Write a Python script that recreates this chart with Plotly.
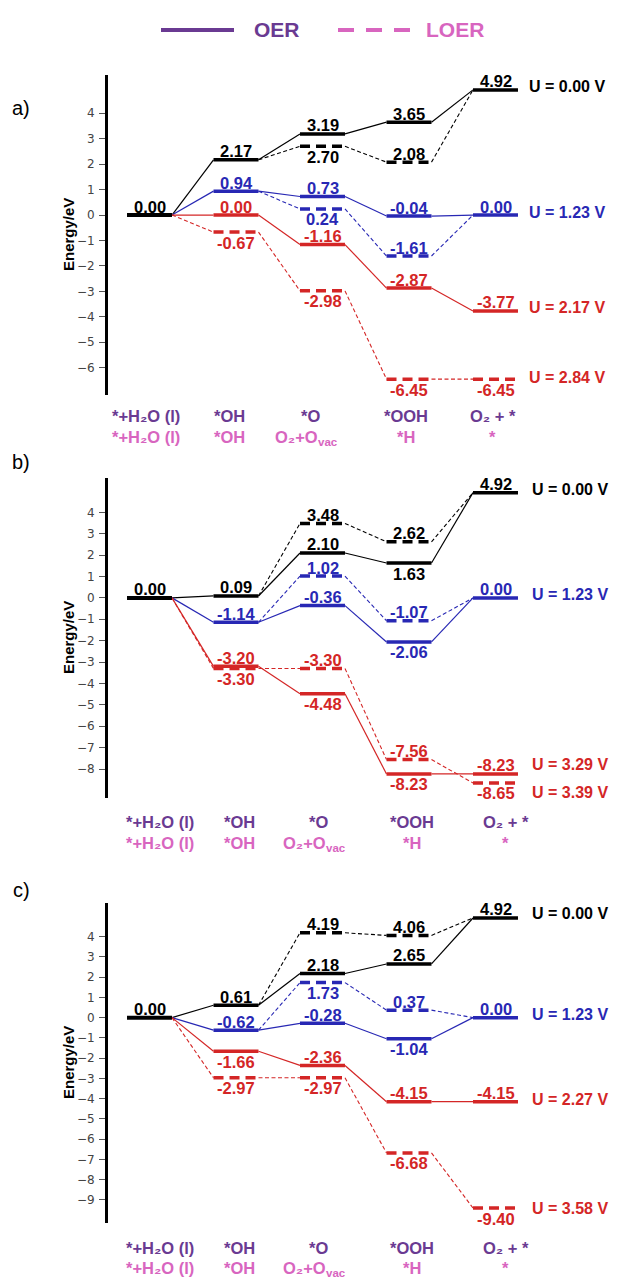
import plotly.graph_objects as go

# ---------------- data ----------------
steps_oer = ["*+H\u2082O (l)", "*OH", "*O", "*OOH", "O\u2082 + *"]
steps_loer = ["*+H\u2082O (l)", "*OH", "O\u2082+O", "*H", "*"]
steps_loer_sub = ["", "", "vac", "", ""]

# panel a
a_oer_u0 = [0.00, 2.17, 3.19, 3.65, 4.92]
a_loer_u0 = [0.00, 2.17, 2.70, 2.08, 4.92]
a_oer_u1 = [0.00, 0.94, 0.73, -0.04, 0.00]
a_loer_u1 = [0.00, 0.94, 0.24, -1.61, 0.00]
a_oer_u2 = [0.00, 0.00, -1.16, -2.87, -3.77]
a_loer_u2 = [0.00, -0.67, -2.98, -6.45, -6.45]
a_potentials = ["U = 0.00 V", "U = 1.23 V", "U = 2.17 V", "U = 2.84 V"]
a_ticks = [4, 3, 2, 1, 0, -1, -2, -3, -4, -5, -6]

# panel b
b_oer_u0 = [0.00, 0.09, 2.10, 1.63, 4.92]
b_loer_u0 = [0.00, 0.09, 3.48, 2.62, 4.92]
b_oer_u1 = [0.00, -1.14, -0.36, -2.06, 0.00]
b_loer_u1 = [0.00, -1.14, 1.02, -1.07, 0.00]
b_oer_u2 = [0.00, -3.20, -4.48, -8.23, -8.23]
b_loer_u2 = [0.00, -3.30, -3.30, -7.56, -8.65]
b_potentials = ["U = 0.00 V", "U = 1.23 V", "U = 3.29 V", "U = 3.39 V"]
b_ticks = [4, 3, 2, 1, 0, -1, -2, -3, -4, -5, -6, -7, -8]

# panel c
c_oer_u0 = [0.00, 0.61, 2.18, 2.65, 4.92]
c_loer_u0 = [0.00, 0.61, 4.19, 4.06, 4.92]
c_oer_u1 = [0.00, -0.62, -0.28, -1.04, 0.00]
c_loer_u1 = [0.00, -0.62, 1.73, 0.37, 0.00]
c_oer_u2 = [0.00, -1.66, -2.36, -4.15, -4.15]
c_loer_u2 = [0.00, -2.97, -2.97, -6.68, -9.40]
c_potentials = ["U = 0.00 V", "U = 1.23 V", "U = 2.27 V", "U = 3.58 V"]
c_ticks = [4, 3, 2, 1, 0, -1, -2, -3, -4, -5, -6, -7, -8, -9]

# ---------------- styling / layout ----------------
W, H = 633, 1279
BLACK = "#000000"
BLUE = "#2828b4"
RED = "#d42626"
PURPLE = "#6a3a92"
PINK = "#d865bf"
FONT = "Liberation Sans, Arial, sans-serif"
HALF = 0.26  # half width of an energy level

# label placement (a = above, b = below, - = none) for steps 1..4
panels = [
    dict(name="a)", top=75, bottom=395, yr=[-7.073, 5.505], ticks=a_ticks,
         series=[(a_oer_u0, a_loer_u0, BLACK, "aaaa", "-ba-"),
                 (a_oer_u1, a_loer_u1, BLUE, "aaaa", "-ba-"),
                 (a_oer_u2, a_loer_u2, RED, "aaaa", "bbbb")],
         pots=a_potentials, potshift=[3, 3, 3, 2], potx=4.36, tag_y=108,
         catx=[-0.04, -0.08, -0.14, -0.04, -0.03], cat_y=(416, 437)),
    dict(name="b)", top=478, bottom=798, yr=[-9.355, 5.605], ticks=b_ticks,
         series=[(b_oer_u0, b_loer_u0, BLACK, "aaba", "-aa-"),
                 (b_oer_u1, b_loer_u1, BLUE, "aaba", "-aa-"),
                 (b_oer_u2, b_loer_u2, RED, "abba", "baab")],
         pots=b_potentials, potshift=[3, 3, 9, -10], potx=4.40, tag_y=462,
         catx=[0.12, 0.04, -0.05, 0.04, 0.12], cat_y=(822, 843)),
    dict(name="c)", top=903, bottom=1223, yr=[-10.14, 5.66], ticks=c_ticks,
         series=[(c_oer_u0, c_loer_u0, BLACK, "aaaa", "-aa-"),
                 (c_oer_u1, c_loer_u1, BLUE, "aaba", "-ba-"),
                 (c_oer_u2, c_loer_u2, RED, "baaa", "bbbb")],
         pots=c_potentials, potshift=[4, 3, 2, 0], potx=4.40, tag_y=890,
         catx=[0.12, 0.04, -0.05, 0.04, 0.12], cat_y=(1248, 1268)),
]

AX_LEFT = 108
XR = [(AX_LEFT - 149.5) / 86.5, (W - 149.5) / 86.5]

fig = go.Figure()
annotations = []
shapes = []
layout = {}


def py(px):
    return 1 - px / H


for k, p in enumerate(panels):
    sfx = "" if k == 0 else str(k + 1)
    xa, ya = "x" + sfx, "y" + sfx
    layout["xaxis" + sfx] = dict(domain=[AX_LEFT / W, 1], range=XR, visible=False,
                                 anchor=ya, fixedrange=True)
    layout["yaxis" + sfx] = dict(domain=[py(p["bottom"]), py(p["top"])], range=p["yr"],
                                 anchor=xa, showgrid=False, zeroline=False,
                                 showline=True, linecolor=BLACK, linewidth=3,
                                 ticks="outside", ticklen=6, tickwidth=1, tickcolor="#555",
                                 tickvals=p["ticks"],
                                 ticktext=[str(t).replace("-", "\u2212") for t in p["ticks"]],
                                 tickfont=dict(family="DejaVu Sans", size=12, color="#444"),
                                 ticklabelstandoff=2)

    def seg(xs, ys, color, width, dash):
        fig.add_trace(go.Scatter(x=xs, y=ys, mode="lines", xaxis=xa, yaxis=ya,
                                 line=dict(color=color, width=width, dash=dash),
                                 showlegend=False, hoverinfo="skip"))

    def label(i, v, color, where):
        annotations.append(dict(x=i, y=v, xref=xa, yref=ya, text="<b>%.2f</b>" % v,
                                showarrow=False, xanchor="center", yanchor="middle",
                                yshift=8.5 if where == "a" else -10.5,
                                font=dict(family=FONT, size=16.5, color=color)))

    for oer, loer, color, lab_o, lab_l in p["series"]:
        # LOER connectors (thin dashed) where they differ from OER
        xs, ys = [], []
        for i in range(4):
            if loer[i] != oer[i] or loer[i + 1] != oer[i + 1]:
                xs += [i + HALF, i + 1 - HALF, None]
                ys += [loer[i], loer[i + 1], None]
        seg(xs, ys, color, 1.1, "4px,2.5px")
        # OER connectors (thin solid)
        xs, ys = [], []
        for i in range(4):
            xs += [i + HALF, i + 1 - HALF, None]
            ys += [oer[i], oer[i + 1], None]
        seg(xs, ys, color, 1.2, "solid")
        # LOER levels (thick dashed)
        xs, ys = [], []
        for i in range(1, 5):
            if loer[i] != oer[i]:
                xs += [i - HALF, i + HALF, None]
                ys += [loer[i], loer[i], None]
        seg(xs, ys, color, 3.5, "10px,6px")
        # OER levels (thick solid)
        xs, ys = [], []
        for i in range(1, 5):
            xs += [i - HALF, i + HALF, None]
            ys += [oer[i], oer[i], None]
        seg(xs, ys, color, 3.5, "solid")
        for i in range(1, 5):
            if lab_o[i - 1] != "-":
                label(i, oer[i], color, lab_o[i - 1])
            if lab_l[i - 1] != "-":
                label(i, loer[i], color, lab_l[i - 1])

    # common starting level
    start = p["series"][0][0][0]
    seg([-HALF, HALF], [start, start], BLACK, 4, "solid")
    label(0, start, BLACK, "a")

    # potential labels
    finals = [p["series"][0][0][4], p["series"][1][0][4], p["series"][2][0][4], p["series"][2][1][4]]
    pcols = [BLACK, BLUE, RED, RED]
    for txt, v, c, sh in zip(p["pots"], finals, pcols, p["potshift"]):
        annotations.append(dict(x=p["potx"], y=v, xref=xa, yref=ya, text="<b>%s</b>" % txt,
                                showarrow=False, xanchor="left", yanchor="middle", yshift=sh,
                                font=dict(family=FONT, size=16, color=c)))

    # step labels
    for i in range(5):
        annotations.append(dict(x=i + p["catx"][i], y=py(p["cat_y"][0]), xref=xa, yref="paper",
                                text="<b>%s</b>" % steps_oer[i], showarrow=False,
                                xanchor="center", yanchor="middle",
                                font=dict(family=FONT, size=16.5, color=PURPLE)))
        if steps_loer_sub[i]:
            annotations.append(dict(x=i + p["catx"][i], y=py(p["cat_y"][1]), xref=xa, yref="paper",
                                    text="<b>%s</b>" % steps_loer[i], showarrow=False,
                                    xanchor="right", yanchor="middle", xshift=10,
                                    font=dict(family=FONT, size=16.5, color=PINK)))
            annotations.append(dict(x=i + p["catx"][i], y=py(p["cat_y"][1]), xref=xa, yref="paper",
                                    text="<b>%s</b>" % steps_loer_sub[i], showarrow=False,
                                    xanchor="left", yanchor="middle", xshift=6, yshift=-5,
                                    font=dict(family=FONT, size=11.5, color=PINK)))
        else:
            annotations.append(dict(x=i + p["catx"][i], y=py(p["cat_y"][1]), xref=xa, yref="paper",
                                    text="<b>%s</b>" % steps_loer[i], showarrow=False,
                                    xanchor="center", yanchor="middle",
                                    font=dict(family=FONT, size=16.5, color=PINK)))

    # axis title
    annotations.append(dict(x=68 / W, y=py((p["top"] + p["bottom"]) / 2), xref="paper", yref="paper",
                            text="<b>Energy/eV</b>", textangle=-90, showarrow=False,
                            xanchor="center", yanchor="middle",
                            font=dict(family=FONT, size=15, color=BLACK)))
    # panel tag
    annotations.append(dict(x=21 / W, y=py(p["tag_y"]), xref="paper", yref="paper",
                            text=p["name"], showarrow=False, xanchor="center", yanchor="middle",
                            font=dict(family=FONT, size=20, color=BLACK)))

# legend (drawn manually)
shapes.append(dict(type="line", xref="paper", yref="paper", x0=161 / W, x1=234 / W,
                   y0=py(30), y1=py(30), line=dict(color=PURPLE, width=4)))
shapes.append(dict(type="line", xref="paper", yref="paper", x0=338 / W, x1=411 / W,
                   y0=py(30), y1=py(30), line=dict(color=PINK, width=4, dash="16px,12px")))
annotations.append(dict(x=277 / W, y=py(30), xref="paper", yref="paper", text="<b>OER</b>",
                        showarrow=False, xanchor="center", yanchor="middle",
                        font=dict(family=FONT, size=21, color=PURPLE)))
annotations.append(dict(x=455 / W, y=py(30), xref="paper", yref="paper", text="<b>LOER</b>",
                        showarrow=False, xanchor="center", yanchor="middle",
                        font=dict(family=FONT, size=21, color=PINK)))

fig.update_layout(width=W, height=H, margin=dict(l=0, r=0, t=0, b=0),
                  paper_bgcolor="white", plot_bgcolor="white",
                  annotations=annotations, shapes=shapes, showlegend=False, **layout)
fig.write_html("out.html")
